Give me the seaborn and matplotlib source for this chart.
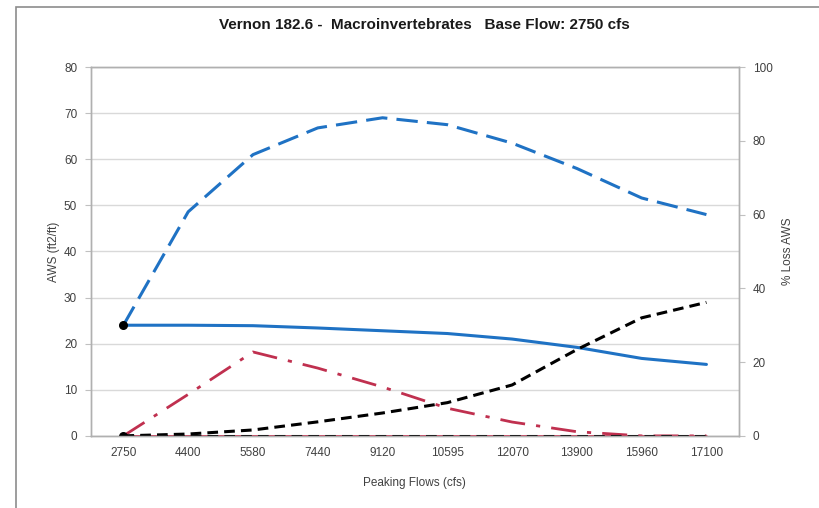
import numpy as np
import pandas as pd
import matplotlib.pyplot as plt
import matplotlib.patches as mpatches
import seaborn as sns

# Peaking flow categories (x axis)
flows = ["2750", "4400", "5580", "7440", "9120", "10595", "12070", "13900", "15960", "17100"]

# AWS series (left axis, ft2/ft)
aws_base = [24, 48.6, 61, 66.8, 69, 67.5, 63.5, 58, 51.6, 48]
aws_peak = [24, 24, 23.9, 23.4, 22.8, 22.2, 21, 19.2, 16.8, 15.5]
aws_diff = [0, 9, 18.2, 14.7, 10.6, 6, 3, 0.9, 0, 0]
aws_zero = [0, 0, 0, 0, 0, 0, 0, 0, 0, 0]

# % loss series (right axis)
pct_loss = [0, 0.5, 1.6, 3.8, 6.2, 9, 13.8, 23.4, 32, 36.2]
pct_zero = [0, 0, 0, 0, 0, 0, 0, 0, 0, 0]

sns.set_style("white")
plt.rcParams["font.family"] = ["Liberation Sans Narrow", "Liberation Sans", "DejaVu Sans"]

df = pd.DataFrame({"pos": np.arange(len(flows)), "flow": flows,
                   "aws_base": aws_base, "aws_peak": aws_peak,
                   "aws_diff": aws_diff, "aws_zero": aws_zero,
                   "pct_loss": pct_loss, "pct_zero": pct_zero})

fig = plt.figure(figsize=(8.2, 5.08), dpi=100)
ax = fig.add_axes([0.111, 0.142, 0.790, 0.726])
ax2 = ax.twinx()

blue = "#1f72c4"
crimson = "#c0304f"
tick_col = "#404040"

# left axis lines
sns.lineplot(data=df, x="pos", y="aws_zero", ax=ax, color=crimson, lw=2, zorder=3)
sns.lineplot(data=df, x="pos", y="aws_diff", ax=ax, color=crimson, lw=2, zorder=3)
ax.lines[-1].set_dashes([9, 4, 1.5, 4])
sns.lineplot(data=df, x="pos", y="aws_base", ax=ax, color=blue, lw=2.2, zorder=4)
ax.lines[-1].set_dashes([7, 3])
sns.lineplot(data=df, x="pos", y="aws_peak", ax=ax, color=blue, lw=2.2, zorder=4)

# right axis lines
sns.lineplot(data=df, x="pos", y="pct_zero", ax=ax2, color="black", lw=2.2)
ax2.lines[-1].set_dashes([3.5, 2])
sns.lineplot(data=df, x="pos", y="pct_loss", ax=ax2, color="black", lw=2.2)
ax2.lines[-1].set_dashes([3.5, 2])

# start markers
ax.scatter(df["pos"].iloc[:1], df["aws_peak"].iloc[:1], color="black", s=30, zorder=6)
ax.scatter(df["pos"].iloc[:1], df["aws_zero"].iloc[:1], color="black", s=30, zorder=6)

ax.set_xlim(-0.5, len(flows) - 0.5)
ax.set_ylim(0, 80)
ax2.set_ylim(0, 100)
ax.set_yticks(range(0, 81, 10))
ax2.set_yticks(range(0, 101, 20))
ax.set_xticks(df["pos"])
ax.set_xticklabels(flows)

ax.grid(axis="y", color="#d9d9d9", lw=1)
ax.set_axisbelow(True)
for a in (ax, ax2):
    for s in a.spines.values():
        s.set_color("#b0b0b0")
        s.set_linewidth(1)
ax.tick_params(axis="y", length=4, color="#c0c0c0", labelsize=8.5, labelcolor=tick_col, pad=6)
ax.tick_params(axis="x", length=0, labelsize=8.5, labelcolor=tick_col, pad=8)
ax2.tick_params(axis="y", length=4, color="#c0c0c0", labelsize=8.5, labelcolor=tick_col, pad=6)

ax.set_xlabel("Peaking Flows (cfs)", fontsize=8.5, color=tick_col, labelpad=13)
ax.set_ylabel("AWS (ft2/ft)", fontsize=8.5, color=tick_col, labelpad=3)
ax2.set_ylabel("% Loss AWS", fontsize=8.5, color=tick_col, labelpad=7, rotation=90)

fig.suptitle("Vernon 182.6 -  Macroinvertebrates   Base Flow: 2750 cfs",
             x=0.517, y=0.965, fontsize=11, fontweight="bold", color="#1a1a1a")

# outer chart border
fig.patches.append(mpatches.Rectangle((0.02, -0.01), 1.0, 0.997, transform=fig.transFigure,
                                      fill=False, edgecolor="#8c8c8c", lw=1.2))

fig.savefig("out.png", dpi=100)
